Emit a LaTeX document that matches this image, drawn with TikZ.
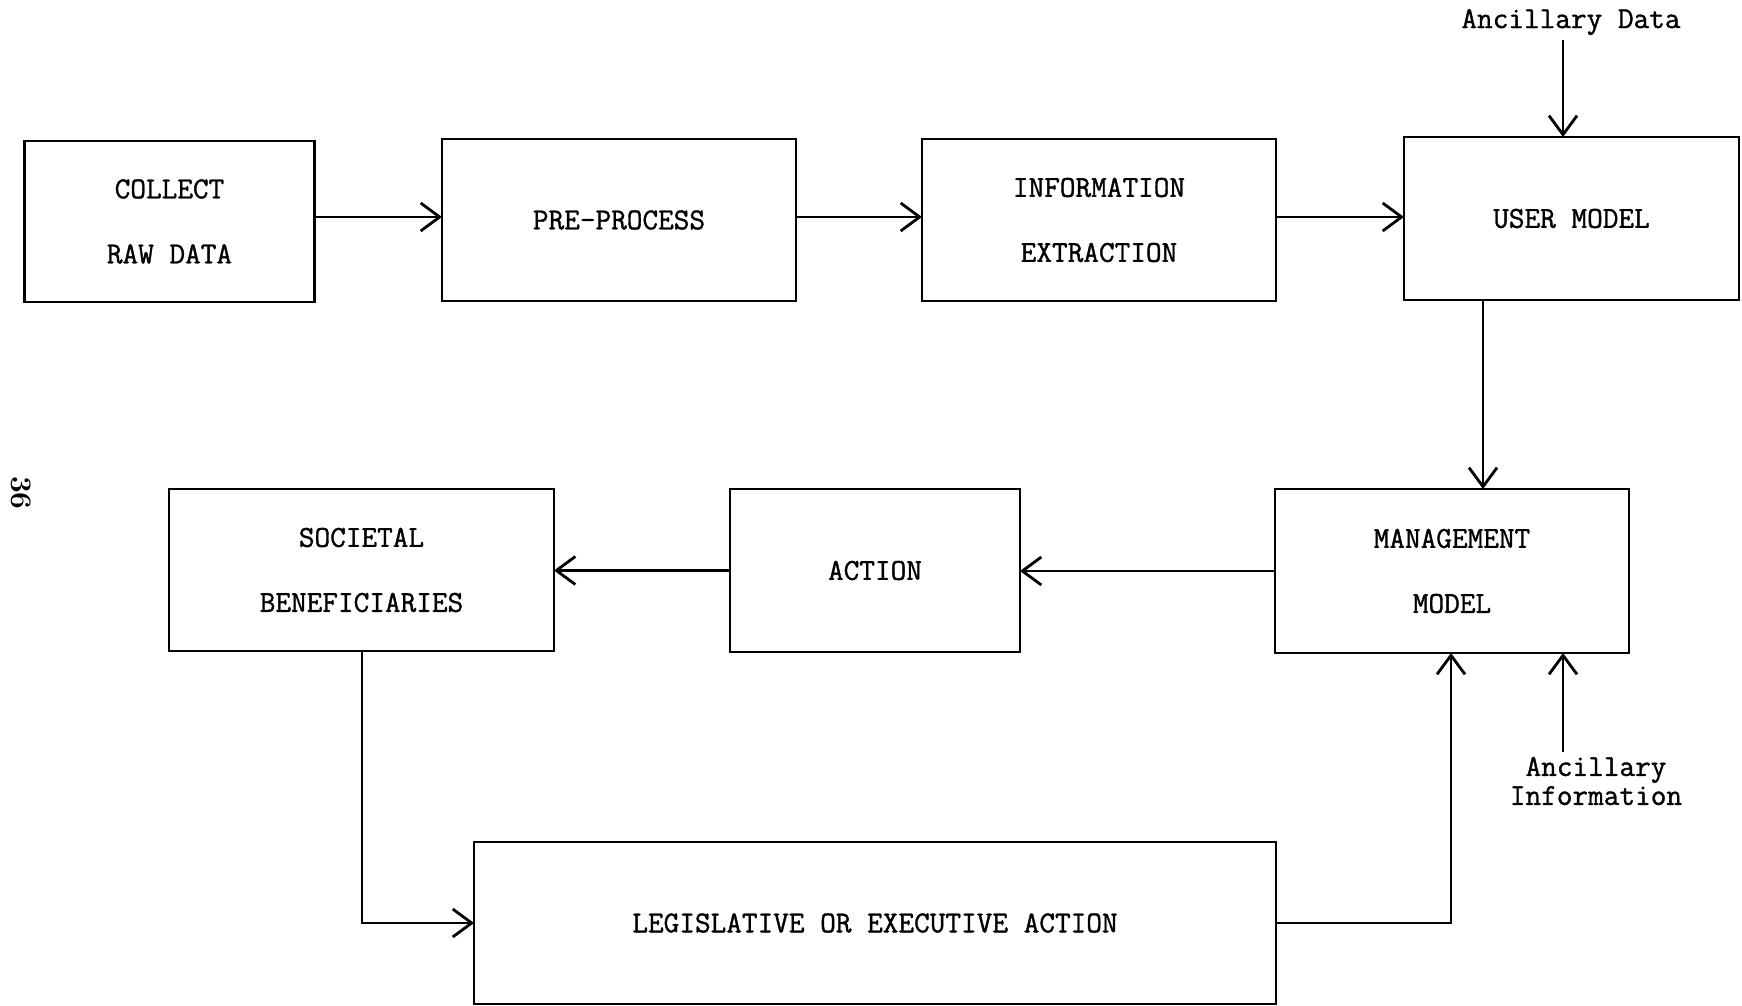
\documentclass[tikz,border=0pt]{standalone}
\usepackage{fontspec}
\newfontfamily\tw[FakeBold=1.2]{Latin Modern Mono}
\usetikzlibrary{arrows.meta}
\begin{document}
\begin{tikzpicture}[x=0.02cm,y=-0.02cm,line width=1.6pt,
  box/.style={draw,rectangle,inner sep=0pt,outer sep=0pt,align=center,
    font=\fontsize{17.3}{37}\selectfont\tw},
  lbl/.style={inner sep=2pt,align=center,font=\fontsize{17.3}{16.5}\selectfont\tw},
  arr/.style={-{Straight Barb[length=0.38cm,width=0.56cm]}}]
\useasboundingbox (0,0) rectangle (1742,1006);
\node[box,minimum width=5.8cm,minimum height=3.22cm] (collect) at (169.5,221.5) {COLLECT\\RAW DATA};
\node[box,minimum width=7.08cm,minimum height=3.24cm] (pre) at (619,220) {PRE-PROCESS};
\node[box,minimum width=7.08cm,minimum height=3.24cm] (info) at (1099,220) {INFORMATION\\EXTRACTION};
\node[box,minimum width=6.7cm,minimum height=3.26cm] (user) at (1571.5,218.5) {USER MODEL};
\node[box,minimum width=7.08cm,minimum height=3.28cm] (mgmt) at (1452,571) {MANAGEMENT\\MODEL};
\node[box,minimum width=5.8cm,minimum height=3.26cm] (action) at (875,570.5) {ACTION};
\node[box,minimum width=7.7cm,minimum height=3.24cm] (soc) at (361.5,570) {SOCIETAL\\BENEFICIARIES};
\node[box,minimum width=16.04cm,minimum height=3.24cm] (legis) at (875,923) {LEGISLATIVE OR EXECUTIVE ACTION};
\node[lbl] (ad) at (1571,22) {Ancillary Data};
\node[lbl] (ai) at (1596,781) {Ancillary\\Information};
\node[inner sep=0pt,rotate=-90,font=\fontsize{17}{20}\selectfont\bfseries] (pg) at (21,493) {36};
\draw[arr] (collect.east |- 0,217) -- (pre.west |- 0,217);
\draw[arr] (pre.east |- 0,217) -- (info.west |- 0,217);
\draw[arr] (info.east |- 0,217) -- (user.west |- 0,217);
\draw[arr] (1563,0 |- ad.south) -- (1563,0 |- user.north);
\draw[arr] (1483,0 |- user.south) -- (1483,0 |- mgmt.north);
\draw[arr] (mgmt.west) -- (mgmt.west -| action.east);
\draw[arr] (action.west) -- (action.west -| soc.east);
\draw[arr] (362,0 |- soc.south) |- (legis.west);
\draw[arr] (legis.east) -| (1451,0 |- mgmt.south);
\draw[arr] (1563,0 |- ai.north) -- (1563,0 |- mgmt.south);
\end{tikzpicture}
\end{document}
